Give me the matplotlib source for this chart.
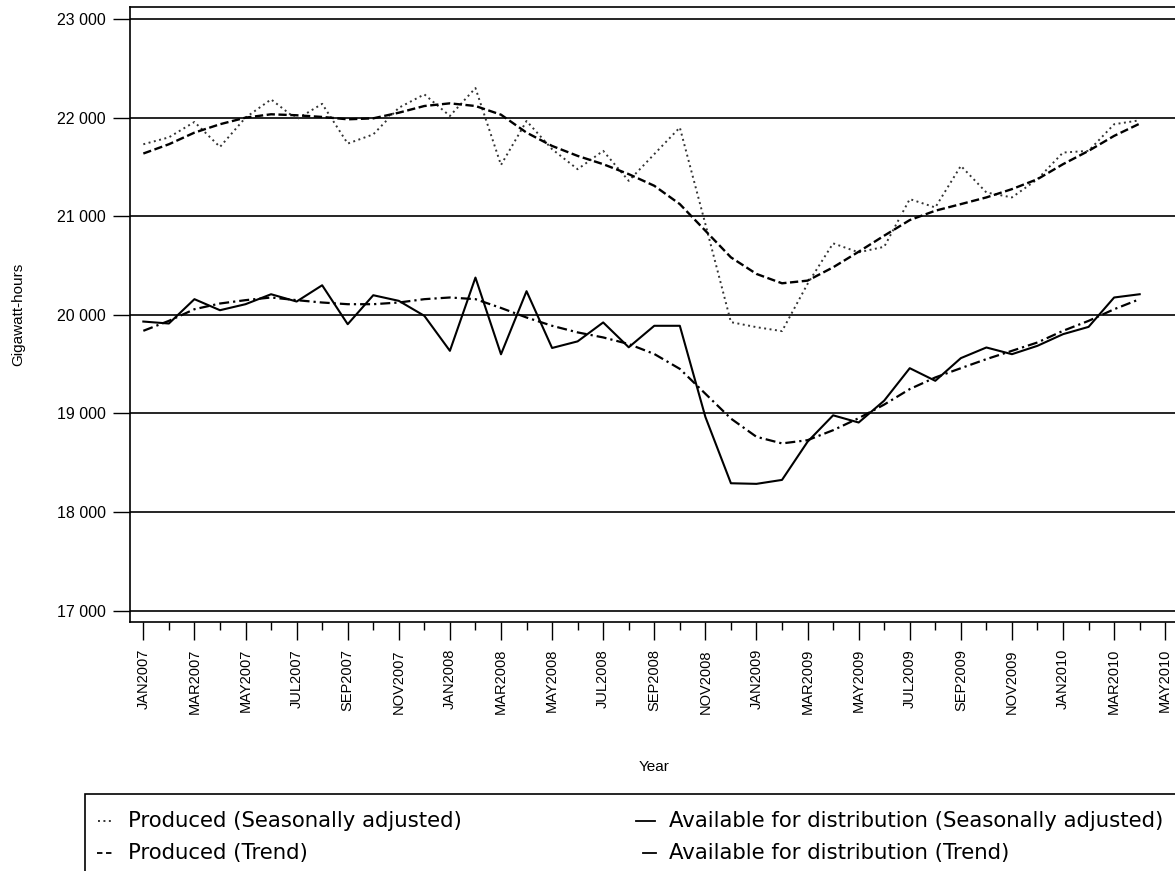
import matplotlib
matplotlib.use("Agg")
import matplotlib.pyplot as plt
from matplotlib.lines import Line2D
from matplotlib.patches import Rectangle
from matplotlib.ticker import FuncFormatter, MultipleLocator

plt.rcParams['font.family'] = ['Liberation Sans', 'DejaVu Sans']

# ---- data (monthly, JAN2007 .. APR2010) ----
months = ["JAN", "FEB", "MAR", "APR", "MAY", "JUN", "JUL", "AUG", "SEP", "OCT", "NOV", "DEC"]
periods = [f"{months[i % 12]}{2007 + i // 12}" for i in range(41)]  # tick positions up to MAY2010

produced_sa = [21730, 21800, 21956, 21703, 22000, 22185, 21983, 22140, 21737, 21830,
               22100, 22236, 22017, 22300, 21520, 21966, 21680, 21477, 21663, 21359,
               21630, 21900, 20921, 19926, 19875, 19835, 20314, 20725, 20634, 20690,
               21174, 21089, 21511, 21241, 21191, 21376, 21646, 21663, 21933, 21973]
produced_trend = [21636, 21730, 21848, 21933, 22000, 22034, 22024, 22007, 21983, 21993,
                  22050, 22118, 22145, 22118, 22030, 21848, 21713, 21612, 21528, 21427,
                  21309, 21123, 20853, 20583, 20415, 20320, 20347, 20482, 20640, 20803,
                  20961, 21056, 21123, 21191, 21275, 21376, 21528, 21663, 21815, 21939]
available_sa = [19932, 19912, 20159, 20047, 20108, 20209, 20135, 20300, 19905, 20199,
                20142, 19990, 19635, 20378, 19600, 20240, 19664, 19731, 19923, 19671,
                19889, 19889, 18965, 18292, 18286, 18326, 18713, 18981, 18908, 19130,
                19459, 19331, 19561, 19669, 19601, 19686, 19804, 19878, 20176, 20209]
available_trend = [19838, 19939, 20057, 20115, 20149, 20176, 20149, 20125, 20108, 20108,
                   20125, 20159, 20176, 20159, 20070, 19973, 19889, 19822, 19771, 19704,
                   19603, 19452, 19200, 18948, 18763, 18696, 18729, 18830, 18952, 19090,
                   19247, 19365, 19459, 19551, 19635, 19720, 19838, 19939, 20057, 20159]

legend_labels = ["Produced (Seasonally adjusted)", "Produced (Trend)",
                 "Available for distribution (Seasonally adjusted)",
                 "Available for distribution (Trend)"]

W, H = 1175, 871
fig = plt.figure(figsize=(W / 100, H / 100), dpi=100)
ax = fig.add_axes([130.3 / W, 1 - 621.7 / H, (1178 - 130.3) / W, (621.7 - 7.3) / H])

x = list(range(len(produced_sa)))
ax.plot(x, produced_sa, color="#333333", lw=1.4, ls=(0, (1, 1.8)))
ax.plot(x, produced_trend, color="black", lw=1.7, ls=(0, (3.5, 1.5)))
ax.plot(x, available_sa, color="black", lw=1.5, ls="-")
ax.plot(x, available_trend, color="black", lw=1.6, ls=(0, (4.5, 1.8, 1, 1.8)))

# horizontal reference lines
for v in range(17000, 23001, 1000):
    ax.axhline(v, color="black", lw=1.2, zorder=0)

ax.set_xlim(-0.51, 40.5)
ax.set_ylim(16888, 23119)

ax.yaxis.set_major_locator(MultipleLocator(1000))
ax.yaxis.set_major_formatter(FuncFormatter(lambda v, p: f"{int(v):,}".replace(",", " ")))
ax.set_xticks(range(0, 41, 2))
ax.set_xticklabels([periods[i] for i in range(0, 41, 2)], rotation=90)
ax.set_xticks(range(1, 41, 2), minor=True)

ax.tick_params(axis="y", direction="out", length=12.2, width=1.0, pad=5.5, labelsize=11.5)
ax.tick_params(axis="x", which="major", direction="out", length=12.7, width=1.0, pad=7,
               labelsize=10.5)
ax.tick_params(axis="x", which="minor", direction="out", length=6, width=1.0)
for s in ax.spines.values():
    s.set_linewidth(1.2)

fig.text(18 / W, 1 - 314 / H, "Gigawatt-hours", rotation=90, ha="center", va="center",
         fontsize=11)
fig.text(654 / W, 1 - 767 / H, "Year", ha="center", va="center", fontsize=11)

# legend box drawn by hand
fig.add_artist(Rectangle((85 / W, -0.05), 1.1, 0.05 + 1 - 794 / H, transform=fig.transFigure,
                         fill=False, edgecolor="black", lw=1.2))
rows = [1 - 821 / H, 1 - 853 / H]
handles = [((98, 113), rows[0], dict(color="#333333", lw=1.4, ls=(0, (1, 1.8)))),
           ((97, 113), rows[1], dict(color="black", lw=1.3, ls=(0, (3, 2)))),
           ((636, 655), rows[0], dict(color="black", lw=1.3, ls="-")),
           ((643, 656), rows[1], dict(color="black", lw=1.3, ls="-"))]
text_x = [128, 128, 669, 669]
for (x0, x1), yy, kw in handles:
    fig.add_artist(Line2D([x0 / W, x1 / W], [yy, yy], transform=fig.transFigure, **kw))
for lab, tx, yy in zip(legend_labels, text_x, [rows[0], rows[1], rows[0], rows[1]]):
    fig.text(tx / W, yy, lab, ha="left", va="center", fontsize=15.3, family="DejaVu Sans")

fig.savefig("out.png", dpi=100)
